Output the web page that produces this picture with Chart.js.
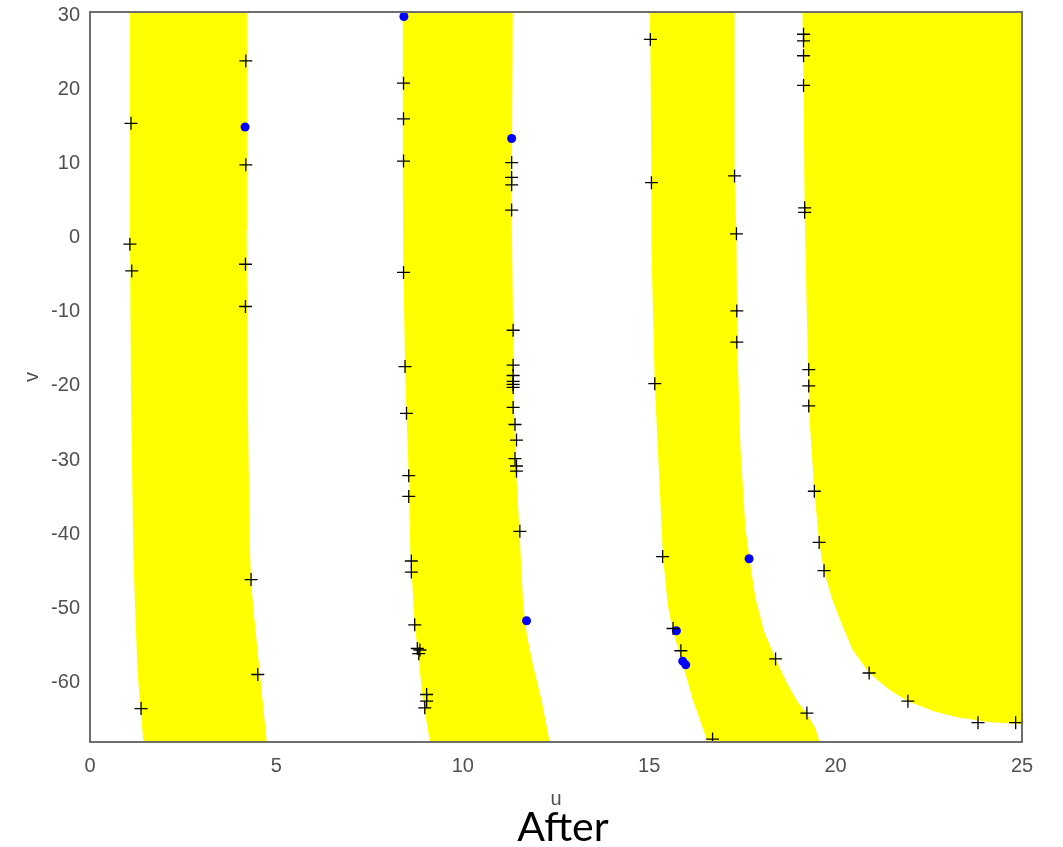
<!DOCTYPE html>
<html>
<head>
<meta charset="utf-8">
<title>After</title>
<script src="https://cdn.jsdelivr.net/npm/chart.js@4.4.1/dist/chart.umd.min.js"></script>
<style>
  html, body { margin: 0; padding: 0; background: #fff; overflow: hidden; }
  #wrap { width: 1063px; height: 847px; position: relative; }
  #caption {
    position: absolute; left: 463px; top: 805px; width: 200px;
    text-align: center; font: 41px/41px Lato, 'Open Sans', sans-serif; color: #000;
  }
</style>
</head>
<body>
<div id="wrap">
  <canvas id="chart"></canvas>
  <div id="caption">After</div>
</div>
<script>
const xTicks = [0, 5, 10, 15, 20, 25];
const yTicks = [-60, -50, -40, -30, -20, -10, 0, 10, 20, 30];
const uRange = [0, 25];
const vRange = [-68.4, 30];

// yellow bands, edges as [u, v] from top to bottom
const band1Left = [[1.07, 30], [1.07, 0.7], [1.10, -22], [1.16, -42.5], [1.21, -50.4], [1.28, -59.3], [1.43, -68.4]];
const band1Right = [[4.21, 30], [4.20, 0.7], [4.23, -22], [4.29, -42.5], [4.32, -46.5], [4.38, -50.4], [4.56, -59.3], [4.74, -68.4]];

const band2Left = [[8.39, 30], [8.39, 9.9], [8.40, -2], [8.45, -17.8], [8.49, -24.1], [8.55, -32.5], [8.59, -42.5], [8.71, -52.6], [8.79, -56], [8.93, -62.7], [9.12, -68.4]];
const band2Right = [[11.34, 30], [11.31, 3.3], [11.35, -12.9], [11.36, -23.3], [11.43, -31.9], [11.52, -40], [11.56, -44], [11.62, -50], [11.72, -54], [11.88, -58], [12.11, -62.7], [12.33, -68.4]];

const band3Left = [[15.01, 30], [15.03, 26.3], [15.06, 7], [15.06, -2], [15.15, -20.2], [15.37, -43.4], [15.5, -50], [15.63, -53.3], [15.82, -56.5], [16.17, -62.7], [16.57, -68.4]];
const band3Right = [[17.29, 30], [17.29, 7.9], [17.34, 0], [17.36, -14.5], [17.45, -29], [17.58, -39.5], [17.69, -43.7], [17.85, -49], [18.08, -53.5], [18.39, -57.2], [18.7, -60.5], [18.98, -63], [19.23, -64.6], [19.45, -66.5], [19.57, -68.4]];

// last band curls along the bottom out to the right edge
const band4Left = [[19.11, 30], [19.14, 20.1], [19.17, 3], [19.25, -15.5], [19.3, -24.9], [19.43, -34.6], [19.56, -41.5], [19.69, -45.3], [19.91, -49.2], [20.17, -52.6], [20.46, -56], [20.9, -59.1], [21.45, -61.4], [21.94, -62.9], [22.65, -64.3], [23.3, -65.1], [24.1, -65.7], [25, -66]];
const band4Right = [[25, 30], [25, -66]];

const crosses = [
  [1.1, 15.0], [1.07, -1.3], [1.12, -4.9], [1.37, -63.9],
  [4.18, 23.4], [4.18, 9.4], [4.17, -4.0], [4.17, -9.7], [4.32, -46.5], [4.5, -59.3],
  [8.41, 20.4], [8.41, 15.6], [8.41, 9.9], [8.41, -5.1], [8.45, -17.8], [8.49, -24.1],
  [8.55, -32.5], [8.55, -35.3], [8.62, -44.0], [8.62, -45.5], [8.71, -52.6],
  [8.78, -55.8], [8.85, -56.0], [8.82, -56.5], [9.03, -62.0], [9.03, -62.9], [8.98, -63.8],
  [11.31, 9.7], [11.31, 7.7], [11.31, 6.7], [11.31, 3.3], [11.35, -12.9], [11.35, -17.6],
  [11.35, -19.0], [11.35, -19.8], [11.35, -20.2], [11.35, -20.6], [11.35, -23.3],
  [11.4, -25.6], [11.44, -27.7], [11.4, -30.2], [11.44, -31.2], [11.44, -31.9], [11.53, -40.0],
  [15.03, 26.3], [15.06, 7.0], [15.15, -20.1], [15.36, -43.4], [15.64, -53.1], [15.85, -56.1], [16.7, -68.0],
  [17.29, 7.9], [17.34, 0.1], [17.35, -10.3], [17.35, -14.5], [18.39, -57.2], [19.23, -64.5],
  [19.14, 27.0], [19.14, 26.1], [19.14, 24.1], [19.14, 20.1], [19.17, 3.6], [19.17, 3.0],
  [19.28, -18.2], [19.28, -20.4], [19.28, -23.1], [19.43, -34.6], [19.56, -41.5], [19.69, -45.3],
  [20.9, -59.1], [21.94, -62.9], [23.82, -65.8], [24.83, -65.8]
];

const dots = [
  [4.16, 14.5], [8.42, 29.4], [11.31, 12.95], [11.71, -52.05],
  [17.68, -43.7], [15.73, -53.4], [15.9, -57.5], [15.98, -58.0]
];

const FONT = "'Liberation Sans', Arial, Helvetica, sans-serif";
const GREY = '#505050';

function toPts(arr) { return arr.map(p => ({ x: p[0], y: p[1] })); }

function band(left, right) {
  return {
    data: toPts(left.concat(right.slice().reverse())),
    showLine: true,
    fill: 'shape',
    backgroundColor: '#ffff00',
    borderColor: 'rgba(0,0,0,0)',
    borderWidth: 0,
    pointRadius: 0,
    tension: 0,
    order: 3
  };
}

const frame = {
  id: 'frame',
  afterDatasetsDraw(chart) {
    const { ctx, chartArea: a } = chart;
    ctx.save();
    ctx.strokeStyle = '#6e6e6e';
    ctx.lineWidth = 2;
    ctx.strokeRect(a.left, a.top, a.right - a.left, a.bottom - a.top);
    ctx.restore();
  }
};

new Chart(document.getElementById('chart'), {
  type: 'scatter',
  data: {
    datasets: [
      band(band1Left, band1Right),
      band(band2Left, band2Right),
      band(band3Left, band3Right),
      band(band4Left, band4Right),
      {
        data: toPts(dots),
        pointStyle: 'circle',
        pointRadius: 4.5,
        backgroundColor: '#0000ff',
        borderWidth: 0,
        order: 2
      },
      {
        data: toPts(crosses),
        pointStyle: 'cross',
        pointRadius: 6.5,
        borderColor: '#000',
        borderWidth: 1.3,
        order: 1
      }
    ]
  },
  options: {
    responsive: true,
    maintainAspectRatio: false,
    animation: false,
    events: [],
    layout: { padding: { top: 12, right: 41, left: 0, bottom: 43 } },
    plugins: {
      legend: { display: false },
      tooltip: { enabled: false }
    },
    scales: {
      x: {
        type: 'linear',
        min: uRange[0],
        max: uRange[1],
        afterBuildTicks: s => { s.ticks = xTicks.map(v => ({ value: v })); },
        afterFit: s => { s.height = 62; s.paddingLeft = 0; s.paddingRight = 0; },
        grid: { display: false, drawTicks: false, tickLength: 0 },
        border: { display: false },
        ticks: { padding: 12, color: GREY, maxRotation: 0, autoSkip: false, font: { family: FONT, size: 20 } },
        title: { display: true, text: 'u', color: GREY, padding: 0, font: { family: FONT, size: 20, lineHeight: 0.5 } }
      },
      y: {
        type: 'linear',
        min: vRange[0],
        max: vRange[1],
        afterBuildTicks: s => { s.ticks = yTicks.map(v => ({ value: v })); },
        afterFit: s => { s.width = 90; s.paddingTop = 0; s.paddingBottom = 0; },
        grid: { display: false, drawTicks: false, tickLength: 0 },
        border: { display: false },
        ticks: { padding: 10, labelOffset: 3, color: GREY, autoSkip: false, font: { family: FONT, size: 20 } },
        title: { display: true, text: 'v', color: GREY, padding: { top: 22, bottom: 0 }, font: { family: FONT, size: 20, lineHeight: 1 } }
      }
    }
  },
  plugins: [frame]
});
</script>
</body>
</html>
